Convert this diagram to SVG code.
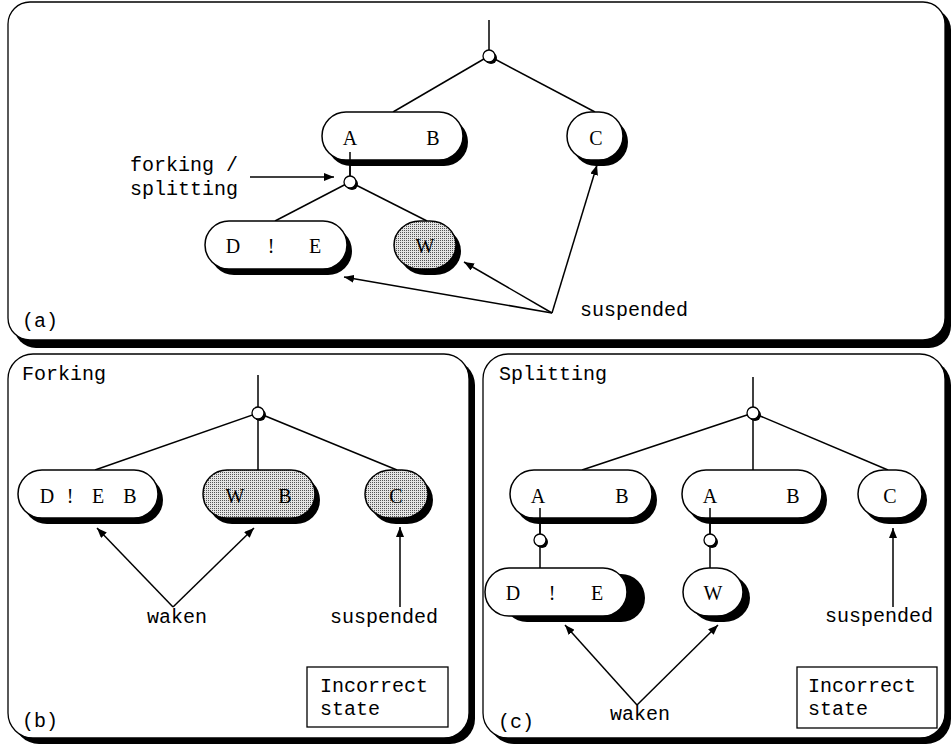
<svg xmlns="http://www.w3.org/2000/svg" width="951" height="744" viewBox="0 0 951 744">
<defs>
<pattern id="dots" width="2" height="2" patternUnits="userSpaceOnUse">
<rect width="2" height="2" fill="#e4e4e4"/>
<rect width="1" height="1" fill="#555"/>
</pattern>
<marker id="arr" viewBox="0 0 10 8" refX="10" refY="4" markerWidth="10" markerHeight="8" markerUnits="userSpaceOnUse" orient="auto">
<path d="M0,0 L10,4 L0,8 z" fill="#000"/>
</marker>
</defs>
<style>
.panel{fill:#fff;stroke:#000;stroke-width:1.3}
.pshadow{fill:#000}
.node{fill:#fff;stroke:#000;stroke-width:1.5}
.shaded{fill:url(#dots);stroke:#000;stroke-width:1.5}
.shadow{fill:#000}
.lt{font-family:"Liberation Serif",serif;font-size:20px;text-anchor:middle}
.mono{font-family:"Liberation Mono",monospace;font-size:20px}
.line{stroke:#000;stroke-width:1.5;fill:none}
.arrow{stroke:#000;stroke-width:1.5;fill:none;marker-end:url(#arr)}
.jn{fill:#fff;stroke:#000;stroke-width:1.3}
.box{fill:#fff;stroke:#000;stroke-width:1.3}
</style>

<g id="panels">
<rect class="pshadow" x="14" y="8" width="937" height="340" rx="22"/>
<rect class="panel" x="8" y="2" width="937" height="338" rx="22"/>
<rect class="pshadow" x="14" y="360" width="461" height="384" rx="25"/>
<rect class="panel" x="8" y="354" width="461" height="384" rx="25"/>
<rect class="pshadow" x="489" y="360" width="462" height="384" rx="25"/>
<rect class="panel" x="483" y="354" width="462" height="384" rx="25"/>
</g>

<g id="connectors">
<!-- (a) -->
<line class="line" x1="489" y1="20" x2="489" y2="50"/>
<line class="line" x1="489" y1="56" x2="393" y2="112"/>
<line class="line" x1="489" y1="56" x2="595" y2="112"/>
<line class="line" x1="350" y1="152" x2="350" y2="176"/>
<line class="line" x1="350" y1="182" x2="275" y2="221"/>
<line class="line" x1="350" y1="182" x2="427" y2="221"/>
<line class="arrow" x1="250" y1="177" x2="334" y2="177"/>
<line class="arrow" x1="552" y1="313" x2="344" y2="277"/>
<line class="arrow" x1="552" y1="313" x2="464" y2="262"/>
<line class="arrow" x1="552" y1="313" x2="597" y2="165"/>
<!-- (b) -->
<line class="line" x1="258" y1="375" x2="258" y2="470"/>
<line class="line" x1="258" y1="413" x2="95" y2="470"/>
<line class="line" x1="258" y1="413" x2="397" y2="470"/>
<line class="arrow" x1="173" y1="607" x2="97" y2="528"/>
<line class="arrow" x1="173" y1="607" x2="254" y2="528"/>
<line class="arrow" x1="400" y1="607" x2="400" y2="527"/>
<!-- (c) -->
<line class="line" x1="753" y1="377" x2="753" y2="470"/>
<line class="line" x1="753" y1="413" x2="582" y2="470"/>
<line class="line" x1="753" y1="413" x2="888" y2="470"/>
<line class="line" x1="540" y1="508" x2="540" y2="568"/>
<line class="line" x1="710" y1="508" x2="710" y2="568"/>
<line class="arrow" x1="637" y1="705" x2="565" y2="625"/>
<line class="arrow" x1="637" y1="705" x2="718" y2="625"/>
<line class="arrow" x1="893" y1="607" x2="893" y2="528"/>
</g>

<!-- junction circles -->
<g id="j-a1"><circle class="shadow" cx="491" cy="58" r="6"/><circle class="jn" cx="489" cy="56" r="6"/></g>
<g id="j-a2"><circle class="shadow" cx="352" cy="184" r="6"/><circle class="jn" cx="350" cy="182" r="6"/></g>
<g id="j-b1"><circle class="shadow" cx="260" cy="415" r="6"/><circle class="jn" cx="258" cy="413" r="6"/></g>
<g id="j-c1"><circle class="shadow" cx="755" cy="415" r="6"/><circle class="jn" cx="753" cy="413" r="6"/></g>
<g id="j-c2"><circle class="shadow" cx="542" cy="542" r="6"/><circle class="jn" cx="540" cy="540" r="6"/></g>
<g id="j-c3"><circle class="shadow" cx="712" cy="542" r="6"/><circle class="jn" cx="710" cy="540" r="6"/></g>

<!-- (a) nodes -->
<g id="a-AB">
<rect class="shadow" x="327" y="118" width="141" height="48" rx="24"/>
<rect class="node" x="322" y="112" width="141" height="48" rx="24"/>
<text class="lt" x="350" y="145">A</text><text class="lt" x="433" y="145">B</text>
</g>
<line class="line" x1="350" y1="152" x2="350" y2="176"/>
<g id="a-C">
<rect class="shadow" x="572" y="118" width="56" height="48" rx="24"/>
<rect class="node" x="567" y="112" width="56" height="48" rx="24"/>
<text class="lt" x="596" y="145">C</text>
</g>
<g id="a-DE">
<rect class="shadow" x="210" y="227" width="142" height="48" rx="24"/>
<rect class="node" x="205" y="221" width="142" height="48" rx="24"/>
<text class="lt" x="233" y="253">D</text><text class="lt" x="271" y="253">!</text><text class="lt" x="315" y="253">E</text>
</g>
<g id="a-W">
<rect class="shadow" x="399" y="227" width="62" height="48" rx="26"/>
<rect class="shaded" x="394" y="221" width="62" height="48" rx="26"/>
<text class="lt" x="425" y="253">W</text>
</g>

<!-- (b) nodes -->
<g id="b-DEB">
<rect class="shadow" x="23" y="476" width="140" height="48" rx="24"/>
<rect class="node" x="18" y="470" width="140" height="48" rx="24"/>
<text class="lt" x="47" y="503">D</text><text class="lt" x="70" y="503">!</text><text class="lt" x="98" y="503">E</text><text class="lt" x="130" y="503">B</text>
</g>
<g id="b-WB">
<rect class="shadow" x="208" y="476" width="112" height="48" rx="24"/>
<rect class="shaded" x="203" y="470" width="112" height="48" rx="24"/>
<text class="lt" x="235" y="503">W</text><text class="lt" x="285" y="503">B</text>
</g>
<g id="b-C">
<rect class="shadow" x="370" y="476" width="63" height="48" rx="26"/>
<rect class="shaded" x="365" y="470" width="63" height="48" rx="26"/>
<text class="lt" x="396" y="503">C</text>
</g>

<!-- (c) nodes -->
<g id="c-AB1">
<rect class="shadow" x="515" y="476" width="142" height="48" rx="24"/>
<rect class="node" x="510" y="470" width="142" height="48" rx="24"/>
<text class="lt" x="538" y="503">A</text><text class="lt" x="622" y="503">B</text>
</g>
<g id="c-AB2">
<rect class="shadow" x="687" y="476" width="140" height="48" rx="24"/>
<rect class="node" x="682" y="470" width="140" height="48" rx="24"/>
<text class="lt" x="710" y="503">A</text><text class="lt" x="793" y="503">B</text>
</g>
<g id="c-C">
<rect class="shadow" x="863" y="476" width="64" height="48" rx="26"/>
<rect class="node" x="858" y="470" width="64" height="48" rx="26"/>
<text class="lt" x="890" y="503">C</text>
</g>
<line class="line" x1="540" y1="508" x2="540" y2="534"/>
<line class="line" x1="710" y1="508" x2="710" y2="534"/>
<g id="c-DE">
<rect class="shadow" x="503" y="574" width="142" height="48" rx="24"/>
<rect class="node" x="485" y="568" width="142" height="48" rx="24"/>
<text class="lt" x="513" y="600">D</text><text class="lt" x="552" y="600">!</text><text class="lt" x="597" y="600">E</text>
</g>
<g id="c-W">
<rect class="shadow" x="690" y="574" width="60" height="48" rx="26"/>
<rect class="node" x="683" y="568" width="60" height="48" rx="26"/>
<text class="lt" x="713" y="600">W</text>
</g>

<!-- labels -->
<g id="labels">
<text class="mono" x="130" y="171">forking /</text>
<text class="mono" x="130" y="195">splitting</text>
<text class="mono" x="580" y="316">suspended</text>
<text class="mono" x="22" y="327">(a)</text>
<text class="mono" x="22" y="380">Forking</text>
<text class="mono" x="177" y="623" text-anchor="middle">waken</text>
<text class="mono" x="330" y="623">suspended</text>
<text class="mono" x="22" y="727">(b)</text>
<text class="mono" x="499" y="380">Splitting</text>
<text class="mono" x="640" y="720" text-anchor="middle">waken</text>
<text class="mono" x="825" y="622">suspended</text>
<text class="mono" x="498" y="728">(c)</text>
</g>
<g id="box-b">
<rect class="box" x="307" y="667" width="141" height="60"/>
<text class="mono" x="320" y="692">Incorrect</text>
<text class="mono" x="320" y="715">state</text>
</g>
<g id="box-c">
<rect class="box" x="797" y="667" width="140" height="61"/>
<text class="mono" x="808" y="692">Incorrect</text>
<text class="mono" x="808" y="715">state</text>
</g>
</svg>
